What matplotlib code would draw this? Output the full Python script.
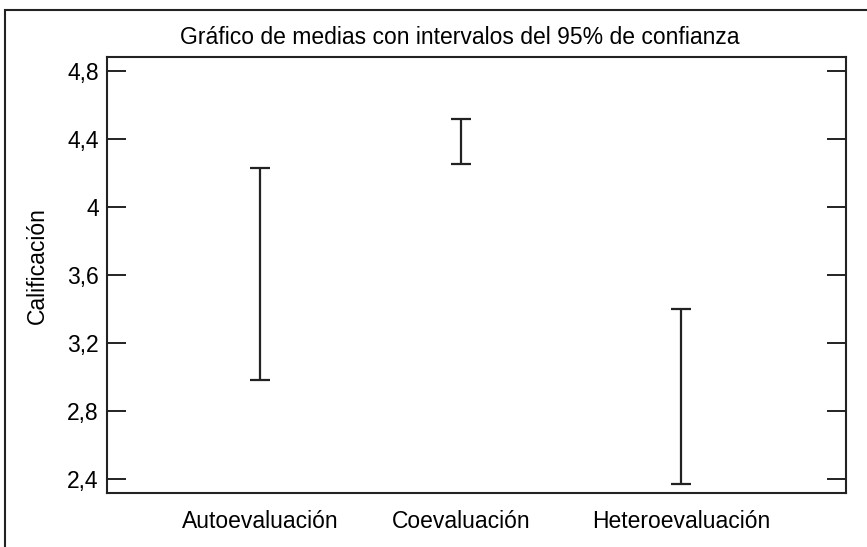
import matplotlib
matplotlib.use('Agg')
import matplotlib.pyplot as plt
from matplotlib.patches import Rectangle

# limites de los intervalos del 95%
grupos = ['Autoevaluación', 'Coevaluación', 'Heteroevaluación']
limite_inf = [2.981, 4.254, 2.367]
limite_sup = [4.229, 4.519, 3.400]
yticks = [2.4, 2.8, 3.2, 3.6, 4.0, 4.4, 4.8]
ytick_labels = ['2,4', '2,8', '3,2', '3,6', '4', '4,4', '4,8']

# posicion horizontal de cada grupo (fraccion del eje)
x_pos = [0.207, 0.479, 0.777]

plt.rcParams['font.family'] = ['Liberation Sans', 'DejaVu Sans']
color = '#222222'
fs = 16.5

fig = plt.figure(figsize=(8.67, 5.47), dpi=100)
ax = fig.add_axes([107 / 867, 1 - 493 / 547, 739 / 867, 436 / 547])

medias = [(a + b) / 2 for a, b in zip(limite_inf, limite_sup)]
err = [[m - a for m, a in zip(medias, limite_inf)],
       [b - m for m, b in zip(medias, limite_sup)]]
ax.errorbar(x_pos, medias, yerr=err, fmt='none', ecolor=color,
            elinewidth=1.6, capsize=7, capthick=1.6)

ax.set_xlim(0, 1)
ax.set_ylim(2.316, 4.884)
ax.set_yticks(yticks, ytick_labels)
ax.set_xticks(x_pos, grupos)
ax.tick_params(axis='y', direction='in', length=14, width=1.4, color=color,
               labelsize=fs, pad=6, right=True)
ax.tick_params(axis='x', length=0, labelsize=fs, pad=12)
for s in ax.spines.values():
    s.set_linewidth(1.5)
    s.set_color(color)

ax.set_ylabel('Calificación', fontsize=fs)
ax.yaxis.set_label_coords(37 / 867, 1 - 266 / 547, transform=fig.transFigure)
ax.yaxis.label.set_va('center')

fig.text(460 / 867, 1 - 38 / 547, 'Gráfico de medias con intervalos del 95% de confianza',
         ha='center', va='center', fontsize=fs, color='black')

# marco exterior (recortado por la derecha y abajo)
fig.patches.append(Rectangle((5 / 867, -0.1), 1.2, 0.1 + 1 - 10 / 547,
                             transform=fig.transFigure, fill=False,
                             edgecolor=color, linewidth=1.5, clip_on=False))

fig.savefig('out.png', dpi=100)
